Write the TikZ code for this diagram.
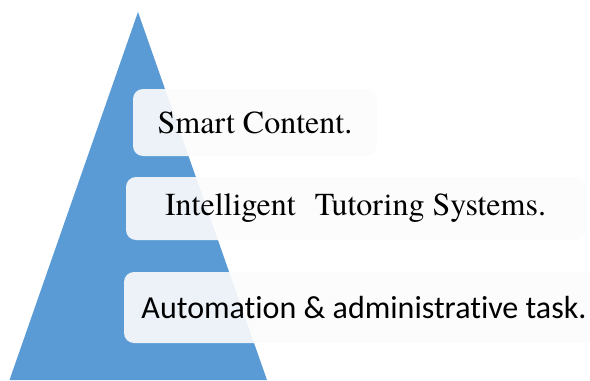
\documentclass[tikz,border=0pt]{standalone}
\usepackage{fontspec}
\newfontfamily\timesfont[Extension=.otf]{texgyretermes-regular}
\newfontfamily\calibrifont[RawFeature=-liga]{Carlito}
\usetikzlibrary{positioning}
\definecolor{pyramidblue}{HTML}{5B9BD5}
\definecolor{boxwhite}{HTML}{FCFCFC}
\begin{document}
\begin{tikzpicture}[x=0.75pt,y=0.75pt,
    tier box/.style={fill=boxwhite,fill opacity=0.9,text opacity=1,rounded corners=7.5pt,
        inner sep=0pt,font=\timesfont\fontsize{24}{28}\selectfont},
    sans tier/.style={tier box,font=\calibrifont\fontsize{24}{28}\selectfont}]
    \useasboundingbox (0,0) rectangle (590,380);
    \clip (0,0) rectangle (590,380);

    % pyramid
    \coordinate (apex) at (138,368);
    \coordinate (baseleft) at (9.5,0);
    \coordinate (baseright) at (267,0);
    \fill[pyramidblue] (apex) -- (baseleft) -- (baseright) -- cycle;

    % tiers
    \node[tier box, minimum width=183pt, minimum height=50.25pt] (content) at (255,257.5) {Smart Content.};
    \node[tier box, minimum width=344.25pt, minimum height=47.25pt] (tutoring) at (355.5,171.5) {Intelligent\hspace{0.6em}Tutoring Systems.};
    \node[sans tier, minimum width=360pt, minimum height=53.25pt] (admin) at (364,72.5) {Automation \& administrative task.};
\end{tikzpicture}
\end{document}
